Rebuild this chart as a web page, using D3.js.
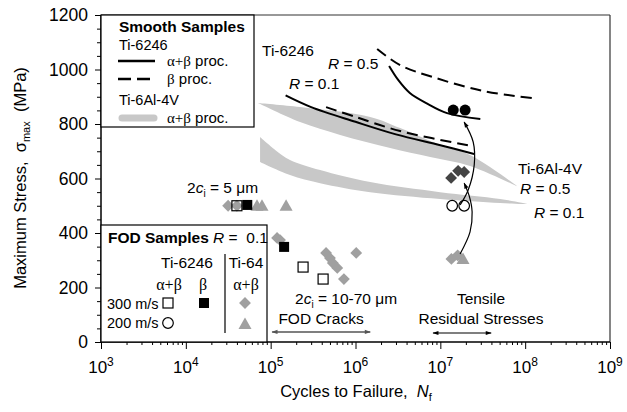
<!DOCTYPE html>
<html><head><meta charset="utf-8">
<script src="https://cdn.jsdelivr.net/npm/d3@7"></script>
<style>
body{margin:0;background:#fff;}
text{font-family:"Liberation Sans",Arial,sans-serif;fill:#000;}
.sym{font-family:"Liberation Serif","Times New Roman",serif;}
</style></head>
<body><svg id="chart" width="627" height="412"></svg>
<script>
// ---------- data ----------
const yTicks = [0, 200, 400, 600, 800, 1000, 1200];
const xDecades = [3, 4, 5, 6, 7, 8, 9];

// Smooth samples (N, MPa)
const ti6246_ab_R01 = [[1.5e5,905],[3e5,862],[1e6,808],[3e6,762],[1e7,722],[2.5e7,690]];
const ti6246_b_R01  = [[4.5e5,862],[1e6,826],[3.36e6,774],[2.37e7,719]];
const ti6246_ab_R05 = [[2.49e6,1013],[3.2e6,961],[4.37e6,914],[7e6,875],[1.2e7,840],[2.96e7,818]];
const ti6246_b_R05  = [[1.8e6,1075],[3.36e6,1016],[8.2e6,972],[3.2e7,921],[1.2e8,895]];

// Ti-6Al-4V scatter bands: upper edge and lower edge
const ti64_R05_top = [[7.1e4,877],[2.22e5,862],[1.49e6,826],[3.36e6,785],[7.6e6,738],[2.24e7,686],[8.3e7,569]];
const ti64_R05_bot = [[7.1e4,877],[2.22e5,807],[6.6e5,760],[2.56e6,712],[7.6e6,679],[2.24e7,646],[8.3e7,569]];
const ti64_R01_top = [[7.5e4,752],[1.13e5,705],[1.69e5,668],[3.83e5,631],[1.49e6,587],[9.95e6,550],[5.07e7,525],[1.08e8,506]];
const ti64_R01_bot = [[7.5e4,661],[1.69e5,613],[3.83e5,583],[1.49e6,550],[9.95e6,525],[5.07e7,510],[1.08e8,506]];

// FOD samples
const ti6246_ab_300 = [[4.0e4,500],[2.41e5,275],[4.15e5,231]];      // open squares
const ti6246_b_300  = [[5.3e4,503],[1.44e5,349]];                   // black squares
const ti6246_ab_200 = [[1.38e7,500],[1.91e7,500]];                  // open circles
const ti6246_b_200  = [[1.42e7,851],[1.96e7,851]];                  // black circles
const ti64_300 = [[3.15e4,500],[4.0e4,500],[1.19e5,382],[1.29e5,374],[4.5e5,327],[5.0e5,308],[5.4e5,290],[6.1e5,272],[1.02e6,327],[7.3e5,231],[1.35e7,305],[1.6e7,318]]; // grey diamonds
const ti64_300_R05 = [[1.34e7,602],[1.62e7,628],[1.91e7,624]];     // dark diamonds
const ti64_200 = [[6.9e4,500],[7.9e4,500],[1.52e5,500],[1.85e7,305]]; // grey triangles

// annotation arrows (N, MPa)
const arrowA = [[1.71e7,323],[2.24e7,404],[2.37e7,477],[2.19e7,536],[1.91e7,583]];
const arrowB = [[1.71e7,503],[2.13e7,558],[2.51e7,650],[2.44e7,734],[1.91e7,807]];
const fodRange = [[1.04e5,37],[1.49e6,37]];
const tensileRange = [[8.2e6,33],[3.97e7,33]];

// ---------- chart ----------
const svg = d3.select("#chart");
const x = d3.scaleLog().domain([1e3,1e9]).range([101,610]);
const y = d3.scaleLinear().domain([0,1200]).range([342,15]);
const GREY = "#a0a0a0", BAND = "#c8c8c8", DARK = "#444";
const NB = "\u00A0";

const defs = svg.append("defs");
function arrowHead(id, color){
  defs.append("marker").attr("id",id).attr("viewBox","0 0 10 10")
    .attr("refX",9).attr("refY",5).attr("markerWidth",7).attr("markerHeight",6)
    .attr("markerUnits","userSpaceOnUse").attr("orient","auto-start-reverse")
    .append("path").attr("d","M0,1.5 L10,5 L0,8.5 z").attr("fill",color);
}
arrowHead("ahBlack","#000");
arrowHead("ahGrey","#555");

// bands
const smooth = d3.line().x(d=>x(d[0])).y(d=>y(d[1])).curve(d3.curveCatmullRom);
function band(top, bot){
  const a = smooth(top);
  const b = smooth(bot.slice().reverse()).replace(/^M/,"L");
  svg.append("path").attr("d", a + b + "Z").attr("fill",BAND).attr("stroke","none");
}
band(ti64_R05_top, ti64_R05_bot);
band(ti64_R01_top, ti64_R01_bot);

// smooth curves
function curve(data, dash){
  svg.append("path").attr("d", smooth(data)).attr("fill","none")
    .attr("stroke","#000").attr("stroke-width",2)
    .attr("stroke-dasharray", dash ? "11,6" : null);
}
curve(ti6246_ab_R01,false);
curve(ti6246_b_R01,true);
curve(ti6246_ab_R05,false);
curve(ti6246_b_R05,true);

// markers
const diamondPath = d3.symbol().type(d3.symbolSquare).size(70)();
const triPath = "M0,-6.5 L6.5,5 L-6.5,5 Z";
function diamonds(data, color){
  svg.selectAll(null).data(data).enter().append("path").attr("d",diamondPath)
    .attr("transform",d=>`translate(${x(d[0])},${y(d[1])}) rotate(45)`).attr("fill",color);
}
function triangles(data, color){
  svg.selectAll(null).data(data).enter().append("path").attr("d",triPath)
    .attr("transform",d=>`translate(${x(d[0])},${y(d[1])})`).attr("fill",color);
}
function squares(data, filled){
  svg.selectAll(null).data(data).enter().append("rect")
    .attr("x",d=>x(d[0])-5).attr("y",d=>y(d[1])-5).attr("width",10).attr("height",10)
    .attr("fill",filled?"#000":"none").attr("stroke","#000").attr("stroke-width",filled?0:1.2);
}
function circles(data, filled){
  svg.selectAll(null).data(data).enter().append("circle")
    .attr("cx",d=>x(d[0])).attr("cy",d=>y(d[1])).attr("r",filled?5.5:5.3)
    .attr("fill",filled?"#000":"#fff").attr("stroke","#000").attr("stroke-width",filled?0:1.2);
}
diamonds(ti64_300, GREY);
triangles(ti64_200, GREY);
diamonds(ti64_300_R05, DARK);
squares(ti6246_ab_300,false);
squares(ti6246_b_300,true);
circles(ti6246_ab_200,false);
circles(ti6246_b_200,true);

// arrows
[arrowA, arrowB].forEach(a=>{
  svg.append("path").attr("d",smooth(a)).attr("fill","none").attr("stroke","#000")
    .attr("stroke-width",1.2).attr("marker-end","url(#ahBlack)");
});
const straight = d3.line().x(d=>x(d[0])).y(d=>y(d[1]));
svg.append("path").attr("d",straight(fodRange))
  .attr("stroke","#555").attr("stroke-width",1.5).attr("marker-start","url(#ahGrey)").attr("marker-end","url(#ahGrey)");
svg.append("path").attr("d",straight(tensileRange))
  .attr("stroke","#000").attr("stroke-width",1.2).attr("marker-start","url(#ahBlack)").attr("marker-end","url(#ahBlack)");

// frame
svg.append("line").attr("x1",101).attr("x2",610).attr("y1",15).attr("y2",15).attr("stroke","#333").attr("stroke-width",1.2);
svg.append("line").attr("x1",610).attr("x2",610).attr("y1",15).attr("y2",342).attr("stroke","#333").attr("stroke-width",1.2);

// y axis
const yAxis = d3.axisLeft(y).tickValues(d3.range(0,1201,50)).tickSize(4)
  .tickFormat(d=> yTicks.includes(d) ? d : "");
const gy = svg.append("g").attr("transform","translate(101,0)").call(yAxis);
gy.select(".domain").attr("d","M0,15V342").attr("stroke","#000").attr("stroke-width",1.5);
gy.selectAll(".tick line").attr("stroke","#000").attr("x2",d=>yTicks.includes(d)?-6:-4);
gy.selectAll(".tick text").attr("x",-13).style("font-size","17.5px").style("font-family","Liberation Sans, Arial");

// x axis
const minorX = [];
xDecades.forEach(e=>{ for(let k=1;k<10;k++){ const v=k*Math.pow(10,e); if(v<=1e9) minorX.push(v);} });
const xAxis = d3.axisBottom(x).tickValues(minorX).tickSize(3).tickFormat("");
const gx = svg.append("g").attr("transform","translate(0,342)").call(xAxis);
gx.select(".domain").attr("d","M101,0H610").attr("stroke","#000").attr("stroke-width",1.5);
gx.selectAll(".tick line").attr("stroke","#000").attr("y2",d=>Math.abs(Math.log10(d)%1)<1e-9?7:3);
xDecades.forEach(e=>{
  const t = svg.append("text").attr("x",x(Math.pow(10,e))).attr("y",373).attr("text-anchor","middle").style("font-size","17px");
  t.append("tspan").text("10");
  t.append("tspan").attr("dy",-7).style("font-size","12px").text(e);
});

// axis titles
const xt = svg.append("text").attr("x",356).attr("y",397).attr("text-anchor","middle").style("font-size","16.5px");
xt.append("tspan").text("Cycles to Failure," + NB + NB);
xt.append("tspan").style("font-style","italic").text("N");
xt.append("tspan").attr("dy",4).style("font-size","11px").text("f");

const yt = svg.append("text").attr("transform","translate(26,178) rotate(-90)").attr("text-anchor","middle").style("font-size","16.5px");
yt.append("tspan").text("Maximum Stress," + NB + NB + "σ");
yt.append("tspan").attr("dy",4).style("font-size","11px").text("max");
yt.append("tspan").attr("dy",-4).text(NB + NB + "(MPa)");

// smooth legend
const lg = svg.append("g");
lg.append("rect").attr("x",101).attr("y",15).attr("width",153).attr("height",112).attr("fill","#fff").attr("stroke","#000").attr("stroke-width",1.2);
lg.append("text").attr("x",119).attr("y",32).style("font-size","15.5px").style("font-weight","bold").text("Smooth Samples");
lg.append("text").attr("x",119).attr("y",50).style("font-size","14.5px").text("Ti-6246");
lg.append("line").attr("x1",118).attr("x2",155).attr("y1",61).attr("y2",61).attr("stroke","#000").attr("stroke-width",2.5);
function procLabel(yp, sym){
  const t = lg.append("text").attr("x",167).attr("y",yp).style("font-size","15px");
  t.append("tspan").attr("class","sym").text(sym);
  t.append("tspan").text(" proc.");
}
procLabel(66,"α+β");
lg.append("line").attr("x1",118).attr("x2",156).attr("y1",79).attr("y2",79).attr("stroke","#000").attr("stroke-width",2.5).attr("stroke-dasharray","13,6");
procLabel(84,"β");
lg.append("text").attr("x",119).attr("y",105).style("font-size","14.5px").text("Ti-6Al-4V");
lg.append("line").attr("x1",122).attr("x2",154).attr("y1",118).attr("y2",118).attr("stroke",BAND).attr("stroke-width",7).attr("stroke-linecap","round");
procLabel(123,"α+β");

// FOD legend
const fg = svg.append("g");
fg.append("rect").attr("x",101).attr("y",225).attr("width",166).attr("height",117).attr("fill","#fff").attr("stroke","#000").attr("stroke-width",1.2);
const ft = fg.append("text").attr("x",108).attr("y",243).style("font-size","15.5px");
ft.append("tspan").style("font-weight","bold").text("FOD Samples ");
ft.append("tspan").style("font-style","italic").text("R");
ft.append("tspan").text(" =" + NB + NB + "0.1");
fg.append("text").attr("x",187).attr("y",268).attr("text-anchor","middle").style("font-size","15.5px").text("Ti-6246");
fg.append("text").attr("x",246).attr("y",268).attr("text-anchor","middle").style("font-size","15.5px").text("Ti-64");
fg.append("line").attr("x1",225).attr("x2",225).attr("y1",254).attr("y2",333).attr("stroke","#000").attr("stroke-width",1.2);
fg.append("text").attr("class","sym").attr("x",169).attr("y",290).attr("text-anchor","middle").style("font-size","16px").text("α+β");
fg.append("text").attr("class","sym").attr("x",203).attr("y",290).attr("text-anchor","middle").style("font-size","16px").text("β");
fg.append("text").attr("class","sym").attr("x",246).attr("y",290).attr("text-anchor","middle").style("font-size","16px").text("α+β");
fg.append("text").attr("x",107).attr("y",309).style("font-size","14.5px").text("300 m/s");
fg.append("text").attr("x",107).attr("y",328).style("font-size","14.5px").text("200 m/s");
fg.append("rect").attr("x",163).attr("y",298).attr("width",10).attr("height",10).attr("fill","none").attr("stroke","#000").attr("stroke-width",1.2);
fg.append("rect").attr("x",199).attr("y",298).attr("width",10).attr("height",10).attr("fill","#000");
fg.append("path").attr("d",diamondPath).attr("transform","translate(245,303) rotate(45)").attr("fill",GREY);
fg.append("circle").attr("cx",168).attr("cy",323).attr("r",5.3).attr("fill","none").attr("stroke","#000").attr("stroke-width",1.2);
fg.append("path").attr("d",triPath).attr("transform","translate(245,324)").attr("fill",GREY);

// annotations
function label(xp, yp, parts, size, anchor){
  const t = svg.append("text").attr("x",xp).attr("y",yp).attr("text-anchor",anchor||"start").style("font-size",(size||15.5)+"px");
  parts.forEach(p=>{
    const s = t.append("tspan").text(p.t);
    if(p.i) s.style("font-style","italic");
    if(p.sub){ s.attr("dy",4).style("font-size","10px"); }
    if(p.up){ s.attr("dy",-4); }
  });
}
label(262,56,[{t:"Ti-6246"}]);
label(328,69,[{t:"R",i:true},{t:" = 0.5"}]);
label(289,89,[{t:"R",i:true},{t:" = 0.1"}]);
label(518,174,[{t:"Ti-6Al-4V"}]);
label(520,194,[{t:"R",i:true},{t:" = 0.5"}]);
label(534,218,[{t:"R",i:true},{t:" = 0.1"}]);
label(187,193,[{t:"2"},{t:"c",i:true},{t:"i",sub:true},{t:" = 5 μm",up:true}]);
label(295,304,[{t:"2"},{t:"c",i:true},{t:"i",sub:true},{t:" = 10-70 μm",up:true}]);
label(321,324,[{t:"FOD Cracks"}],15.5,"middle");
label(481,304,[{t:"Tensile"}],15.5,"middle");
label(481,324,[{t:"Residual Stresses"}],15.5,"middle");
</script></body></html>
